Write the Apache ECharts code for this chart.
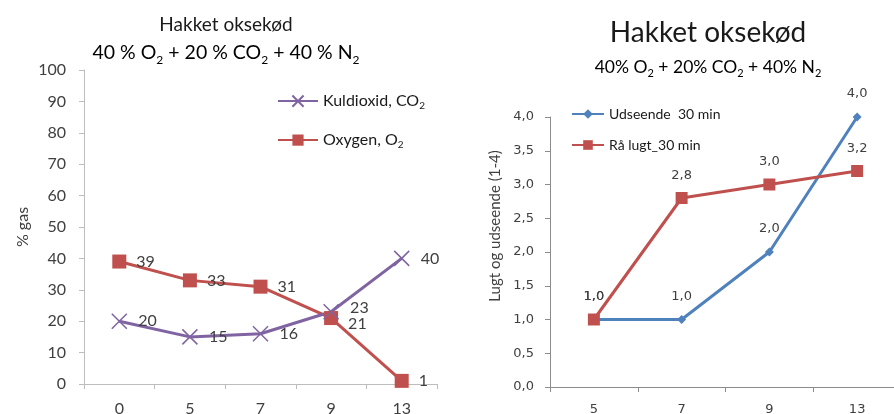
<!DOCTYPE html>
<html>
<head>
<meta charset="utf-8">
<script src="https://cdn.jsdelivr.net/npm/echarts@6/dist/echarts.min.js"></script>
<style>
html,body{margin:0;padding:0;background:#fff;}
#c{width:894px;height:414px;}
</style>
</head>
<body>
<div id="c"></div>
<script>
// ---- data ----
const leftCategories = ['0', '5', '7', '9', '13'];
const co2Values = [20, 15, 16, 23, 40];
const o2Values = [39, 33, 31, 21, 1];
const leftYTicks = [0, 10, 20, 30, 40, 50, 60, 70, 80, 90, 100];

const rightCategories = ['5', '7', '9', '13'];
const udseendeValues = [1.0, 1.0, 2.0, 4.0];
const raaLugtValues = [1.0, 2.8, 3.0, 3.2];
const rightYTicks = [0, 0.5, 1.0, 1.5, 2.0, 2.5, 3.0, 3.5, 4.0];

const CAL = 'Lato, "Open Sans", sans-serif';
const VER = '"DejaVu Sans", Verdana, sans-serif';
const PURPLE = '#8064A2', RED = '#C0504D', BLUE = '#4F81BD';
const TXT = '#404040';

const chart = echarts.init(document.getElementById('c'), null, {renderer: 'canvas'});

function sub(fs) {
  return {
    a: {fontSize: fs, fontFamily: CAL, color: '#1a1a1a', lineHeight: fs + 6},
    s: {fontSize: Math.round(fs * 0.62), fontFamily: CAL, color: '#1a1a1a', verticalAlign: 'bottom', lineHeight: Math.round(fs * 0.62)}
  };
}

const co2Data = co2Values.map((v, i) => i === 3 ? {value: v, label: {offset: [0, -4]}} : v);
const o2Data = o2Values.map((v, i) => i === 3 ? {value: v, label: {offset: [0, 6]}} : v);

const option = {
  animation: false,
  backgroundColor: '#fff',
  graphic: [
    {type: 'text', x: 226, y: 25, style: {text: 'Hakket oksekød', fontSize: 19, fontFamily: CAL, fill: '#1a1a1a', align: 'center', verticalAlign: 'middle'}},
    {type: 'text', x: 226, y: 53, style: {text: '{a|40 % O}{s|2}{a| + 20 % CO}{s|2}{a| + 40 % N}{s|2}', rich: sub(19.5), align: 'center', verticalAlign: 'middle'}},
    {type: 'text', x: 708, y: 33, style: {text: 'Hakket oksekød', fontSize: 28, fontFamily: CAL, fill: '#1a1a1a', align: 'center', verticalAlign: 'middle'}},
    {type: 'text', x: 708, y: 67, style: {text: '{a|40% O}{s|2}{a| + 20% CO}{s|2}{a| + 40% N}{s|2}', rich: sub(17.5), align: 'center', verticalAlign: 'middle'}},
    {type: 'text', x: 495, y: 226, rotation: Math.PI / 2, style: {text: 'Lugt og udseende (1-4)', fontSize: 15, fontFamily: CAL, fill: TXT, align: 'center', verticalAlign: 'middle'}}
  ],
  legend: [
    {
      orient: 'vertical', left: 272, top: 88, itemWidth: 40, itemHeight: 14, itemGap: 21,
      data: ['Kuldioxid, CO₂', 'Oxygen, O₂'],
      formatter: n => n === 'Kuldioxid, CO₂' ? '{a|Kuldioxid, CO}{s|2}' : '{a|Oxygen, O}{s|2}',
      textStyle: {rich: {
        a: {fontSize: 16, fontFamily: CAL, color: '#1a1a1a', lineHeight: 20},
        s: {fontSize: 10, fontFamily: CAL, color: '#1a1a1a', verticalAlign: 'bottom', lineHeight: 10}
      }}
    },
    {
      orient: 'vertical', left: 566, top: 102, itemWidth: 32, itemHeight: 12, itemGap: 17,
      data: ['Udseende  30 min', 'Rå lugt_30 min'],
      textStyle: {fontSize: 14, fontFamily: CAL, color: '#1a1a1a'}
    }
  ],
  grid: [
    {left: 84, top: 70, width: 353, height: 314, outerBoundsMode: 'none', containLabel: false},
    {left: 550, top: 117, width: 351, height: 270, outerBoundsMode: 'none', containLabel: false}
  ],
  xAxis: [
    {
      type: 'category', gridIndex: 0, data: leftCategories, boundaryGap: true,
      axisLine: {lineStyle: {color: '#BDBDBD', width: 1}},
      axisTick: {show: true, length: 5, lineStyle: {color: '#BDBDBD'}},
      axisLabel: {fontSize: 16, fontFamily: CAL, color: TXT, margin: 17}
    },
    {
      type: 'category', gridIndex: 1, data: rightCategories, boundaryGap: true,
      axisLine: {lineStyle: {color: '#8C8C8C', width: 1}},
      axisTick: {show: true, length: 5, lineStyle: {color: '#8C8C8C'}},
      axisLabel: {fontSize: 13, fontFamily: VER, color: TXT, margin: 16}
    }
  ],
  yAxis: [
    {
      type: 'value', gridIndex: 0, min: leftYTicks[0], max: leftYTicks[leftYTicks.length - 1], interval: leftYTicks[1] - leftYTicks[0],
      name: '% gas', nameLocation: 'middle', nameGap: 53, nameRotate: 90,
      nameTextStyle: {fontSize: 16, fontFamily: CAL, color: TXT},
      axisLine: {show: true, lineStyle: {color: '#BDBDBD'}},
      axisTick: {show: true, length: 5, lineStyle: {color: '#BDBDBD'}},
      splitLine: {show: false},
      axisLabel: {fontSize: 16, fontFamily: CAL, color: TXT, margin: 18}
    },
    {
      type: 'value', gridIndex: 1, min: rightYTicks[0], max: rightYTicks[rightYTicks.length - 1], interval: rightYTicks[1] - rightYTicks[0],
      axisLine: {show: true, lineStyle: {color: '#8C8C8C'}},
      axisTick: {show: true, length: 5, lineStyle: {color: '#8C8C8C'}},
      splitLine: {show: false},
      axisLabel: {fontSize: 13, fontFamily: VER, color: TXT, margin: 16, formatter: v => v.toFixed(1).replace('.', ',')}
    }
  ],
  series: [
    {
      name: 'Oxygen, O₂', type: 'line', xAxisIndex: 0, yAxisIndex: 0, data: o2Data,
      symbol: 'rect', symbolSize: 14,
      lineStyle: {color: RED, width: 3}, itemStyle: {color: RED},
      label: {show: true, position: 'right', distance: 10, fontSize: 16, fontFamily: CAL, color: TXT}
    },
    {
      name: 'Kuldioxid, CO₂', type: 'line', xAxisIndex: 0, yAxisIndex: 0, data: co2Data,
      symbol: 'path://M0,0L10,10M10,0L0,10', symbolSize: 15,
      lineStyle: {color: PURPLE, width: 3}, itemStyle: {color: 'none', borderColor: PURPLE, borderWidth: 1.5},
      label: {show: true, position: 'right', distance: 9, fontSize: 16, fontFamily: CAL, color: TXT}
    },
    {
      name: 'Udseende  30 min', type: 'line', xAxisIndex: 1, yAxisIndex: 1, data: udseendeValues,
      symbol: 'diamond', symbolSize: 9,
      lineStyle: {color: BLUE, width: 3}, itemStyle: {color: BLUE},
      label: {show: true, position: 'top', distance: 12, fontSize: 13, fontFamily: VER, color: TXT, formatter: p => p.value.toFixed(1).replace('.', ',')}
    },
    {
      name: 'Rå lugt_30 min', type: 'line', xAxisIndex: 1, yAxisIndex: 1, data: raaLugtValues,
      symbol: 'rect', symbolSize: 12,
      lineStyle: {color: RED, width: 3}, itemStyle: {color: RED},
      label: {show: true, position: 'top', distance: 10, fontSize: 13, fontFamily: VER, color: TXT, formatter: p => p.value.toFixed(1).replace('.', ',')}
    }
  ]
};
chart.setOption(option);
</script>
</body>
</html>
